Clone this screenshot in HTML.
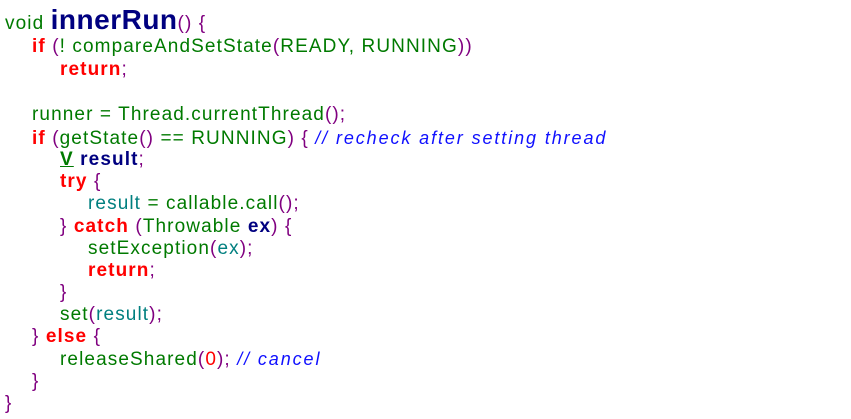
<!DOCTYPE html>
<html><head><meta charset="utf-8"><style>
body{margin:0;width:851px;height:419px;background:#fff;position:relative;overflow:hidden;font-family:"Liberation Sans","DejaVu Sans",sans-serif;font-size:19px;letter-spacing:1.1px;}
.l{position:absolute;height:22px;line-height:22px;white-space:pre;margin-top:1px}
.g{color:#007a00}.r{color:#ff0000;font-weight:bold}.p{color:#800080}.t{color:#007f7f}.n{color:#000080;font-weight:bold}.c{color:#1010ff;font-style:italic;font-size:18px;letter-spacing:1.9px}.rn{color:#ff0000}
</style></head><body>
<div class="l" style="left:5px;top:6px;height:26px;line-height:26px"><span class="g">void </span><span class="n" style="font-size:28px;letter-spacing:0.5px">innerRun</span><span class="p">() {</span></div>
<div class="l" style="left:32px;top:35px"><span class="r">if</span> <span class="p">(</span><span class="g">! compareAndSetState</span><span class="p">(</span><span class="g">READY, RUNNING</span><span class="p">))</span></div>
<div class="l" style="left:60px;top:58px"><span class="r">return</span><span class="p">;</span></div>
<div class="l" style="left:32px;top:103px"><span class="g">runner = Thread.currentThread</span><span class="p">();</span></div>
<div class="l" style="left:32px;top:126px"><span class="r">if</span> <span class="p">(</span><span class="g">getState</span><span class="p">()</span><span class="g"> == RUNNING</span><span class="p">) {</span> <span class="c">// recheck after setting thread</span></div>
<div class="l" style="left:60px;top:148px"><span class="g" style="font-weight:bold;text-decoration:underline">V</span> <span class="n">result</span><span class="p">;</span></div>
<div class="l" style="left:60px;top:170px"><span class="r">try</span> <span class="p">{</span></div>
<div class="l" style="left:88px;top:192px"><span class="t">result</span><span class="g"> = callable.call</span><span class="p">();</span></div>
<div class="l" style="left:60px;top:215px"><span class="p">}</span> <span class="r">catch</span> <span class="p">(</span><span class="g">Throwable </span><span class="n">ex</span><span class="p">) {</span></div>
<div class="l" style="left:88px;top:237px"><span class="g">setException</span><span class="p">(</span><span class="t">ex</span><span class="p">);</span></div>
<div class="l" style="left:88px;top:259px"><span class="r">return</span><span class="p">;</span></div>
<div class="l" style="left:60px;top:281px"><span class="p">}</span></div>
<div class="l" style="left:60px;top:303px"><span class="g">set</span><span class="p">(</span><span class="t">result</span><span class="p">);</span></div>
<div class="l" style="left:32px;top:325px"><span class="p">}</span> <span class="r">else</span> <span class="p">{</span></div>
<div class="l" style="left:60px;top:347px"><span class="g">releaseShared</span><span class="p">(</span><span class="rn">0</span><span class="p">);</span> <span class="c">// cancel</span></div>
<div class="l" style="left:32px;top:370px"><span class="p">}</span></div>
<div class="l" style="left:5px;top:392px"><span class="p">}</span></div>
</body></html>
